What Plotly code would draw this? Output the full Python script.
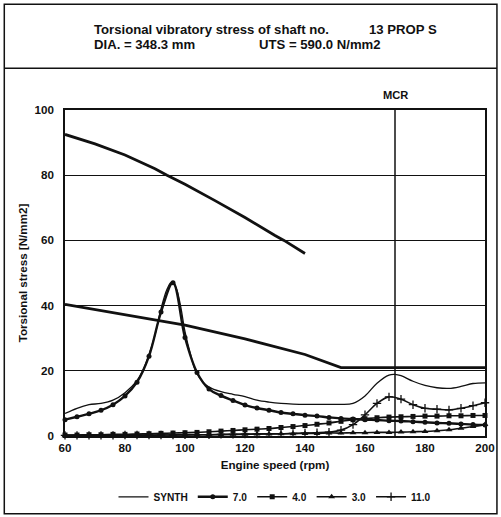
import plotly.graph_objects as go

# ---- data ----
rpm = [60, 64, 68, 72, 76, 80, 84, 88, 92, 96, 100, 104, 108, 112, 116, 120, 124, 128,
       132, 136, 140, 144, 148, 152, 156, 160, 164, 168, 172, 176, 180, 184, 188, 192, 196, 200]

synth_rpm = [60, 64, 68, 72, 76, 80, 84, 86, 88, 90, 92, 94, 95.5, 97, 98.5, 100, 102, 103.5,
             106, 108, 112, 116, 120, 124, 128, 132, 136, 140, 144, 148, 152, 156, 160, 164,
             168, 170, 172, 176, 180, 184, 188, 192, 196, 200]
synth = [6.9, 8.5, 9.6, 10.0, 11.0, 13.3, 17.0, 20.2, 25.0, 31.0, 39.0, 45.0, 47.2, 45.5, 40.0,
         32.0, 24.5, 20.0, 16.5, 15.0, 13.6, 12.8, 12.1, 11.0, 10.4, 10.0, 9.8, 9.7, 9.7, 9.7,
         9.7, 10.0, 12.3, 16.2, 18.7, 18.9, 18.5, 16.8, 15.5, 14.8, 14.6, 15.2, 16.1, 16.3]

order7 = [5.0, 5.9, 6.8, 7.9, 9.6, 12.3, 16.5, 24.5, 38.0, 47.0, 30.2, 19.5, 14.4, 12.4, 10.9,
          9.5, 8.6, 7.9, 7.2, 6.8, 6.4, 6.1, 5.7, 5.4, 5.2, 5.0, 4.9, 4.7, 4.6, 4.4, 4.2, 4.0,
          3.9, 3.7, 3.5, 3.4]
order4 = [0.3, 0.3, 0.4, 0.4, 0.5, 0.5, 0.6, 0.7, 0.8, 0.9, 1.0, 1.1, 1.3, 1.5, 1.7, 1.9, 2.1,
          2.3, 2.6, 2.9, 3.2, 3.6, 4.0, 4.5, 5.0, 5.3, 5.6, 5.8, 5.9, 6.0, 6.1, 6.1, 6.2, 6.2,
          6.3, 6.3]
order3 = [0.1, 0.1, 0.1, 0.1, 0.2, 0.2, 0.2, 0.2, 0.3, 0.3, 0.3, 0.4, 0.4, 0.4, 0.5, 0.5, 0.6,
          0.6, 0.7, 0.7, 0.8, 0.8, 0.9, 0.9, 1.0, 1.0, 1.1, 1.1, 1.2, 1.3, 1.4, 1.6, 1.9, 2.4,
          2.9, 3.5]
order11 = [0.2, 0.2, 0.2, 0.2, 0.2, 0.3, 0.3, 0.3, 0.3, 0.3, 0.4, 0.4, 0.4, 0.5, 0.5, 0.6, 0.6,
           0.7, 0.7, 0.8, 0.9, 1.0, 1.2, 1.8, 3.5, 6.5, 10.0, 12.0, 11.3, 9.6, 8.5, 8.2, 8.0,
           8.5, 9.3, 10.2]

upper_rpm = [60, 70, 80, 90, 94, 100, 110, 120, 130, 133, 140]
upper_limit = [92.5, 89.6, 86.2, 82.0, 80.0, 77.2, 72.2, 67.0, 61.5, 60.0, 56.0]
lower_rpm = [60, 80, 100, 120, 140, 152, 200]
lower_limit = [40.4, 37.3, 34.0, 29.8, 25.0, 21.0, 21.0]

mcr = 170
header_texts = [("Torsional vibratory stress of shaft no.", 92, 28),
                ("13 PROP S", 368, 28),
                ("DIA. = 348.3 mm", 92, 43),
                ("UTS = 590.0 N/mm2", 258, 43)]

FONT = "Liberation Sans, Arial, sans-serif"
BLACK = "#111111"
S = 1.012  # compensation for the capture scaling

# plot area in reference pixels
PL, PR, PT, PB = 64, 486, 109, 436
PW, PH = PR - PL, PB - PT


def px_x(px):
    return (px - PL) / PW


def px_y(py):
    return (PB - py) / PH


fig = go.Figure()
fig.add_trace(go.Scatter(x=upper_rpm, y=upper_limit, mode="lines", showlegend=False,
                         line=dict(color=BLACK, width=2.8), hoverinfo="skip"))
fig.add_trace(go.Scatter(x=lower_rpm, y=lower_limit, mode="lines", showlegend=False,
                         line=dict(color=BLACK, width=2.8), hoverinfo="skip"))
fig.add_trace(go.Scatter(x=synth_rpm, y=synth, mode="lines", name="SYNTH",
                         line=dict(color=BLACK, width=1.3, shape="spline")))
fig.add_trace(go.Scatter(x=rpm, y=order7, mode="lines+markers", name="7.0",
                         line=dict(color=BLACK, width=2.4, shape="spline"),
                         marker=dict(symbol="circle", size=5, color=BLACK), cliponaxis=False))
fig.add_trace(go.Scatter(x=rpm, y=order4, mode="lines+markers", name="4.0",
                         line=dict(color=BLACK, width=1.6, shape="spline"),
                         marker=dict(symbol="square", size=5, color=BLACK), cliponaxis=False))
fig.add_trace(go.Scatter(x=rpm, y=order3, mode="lines+markers", name="3.0",
                         line=dict(color=BLACK, width=1.6, shape="spline"),
                         marker=dict(symbol="triangle-up", size=6, color=BLACK), cliponaxis=False))
fig.add_trace(go.Scatter(x=rpm, y=order11, mode="lines+markers", name="11.0",
                         line=dict(color=BLACK, width=1.6, shape="spline"),
                         marker=dict(symbol="cross-thin", size=6, line=dict(width=1.3, color=BLACK)),
                         cliponaxis=False))

# borders
fig.add_shape(type="rect", xref="paper", yref="paper", x0=px_x(3), x1=px_x(498),
              y0=px_y(514), y1=px_y(3), line=dict(color=BLACK, width=1.5))
fig.add_shape(type="line", xref="paper", yref="paper", x0=px_x(3), x1=px_x(498),
              y0=px_y(67), y1=px_y(67), line=dict(color=BLACK, width=1.5))
fig.add_shape(type="line", xref="x", yref="paper", x0=mcr, x1=mcr, y0=0, y1=1,
              line=dict(color=BLACK, width=1.5))

for txt, px, py in header_texts:
    fig.add_annotation(xref="paper", yref="paper", x=px_x(px), y=px_y(py),
                       text=txt, showarrow=False, xanchor="left", yanchor="middle",
                       xshift=-1, font=dict(family=FONT, size=13 * S, color=BLACK, weight="bold"))
fig.add_annotation(xref="x", yref="paper", x=mcr, y=px_y(94), text="MCR",
                   showarrow=False, yanchor="middle",
                   font=dict(family=FONT, size=11 * S, color=BLACK, weight="bold"))

fig.update_layout(
    width=round(501 * S), height=round(517 * S),
    margin=dict(l=PL * S, r=(501 - PR) * S, t=PT * S, b=(517 - PB) * S),
    paper_bgcolor="white", plot_bgcolor="white",
    font=dict(family=FONT, color=BLACK),
    legend=dict(orientation="h", x=0.5, xanchor="center", y=px_y(497), yanchor="middle",
                font=dict(family=FONT, size=10 * S, color=BLACK, weight="bold"),
                itemwidth=30, tracegroupgap=0, bgcolor="rgba(0,0,0,0)"),
    xaxis=dict(range=[60, 200], dtick=20, tick0=60, showgrid=False, zeroline=False,
               showline=True, linecolor=BLACK, linewidth=1.5, mirror=True, ticks="",
               tickfont=dict(family=FONT, size=11.5 * S, color=BLACK, weight="bold"),
               title=dict(text="Engine speed (rpm)", standoff=8,
                          font=dict(family=FONT, size=11.5 * S, color=BLACK, weight="bold"))),
    yaxis=dict(range=[0, 100], dtick=20, showgrid=True, gridcolor=BLACK, gridwidth=1,
               zeroline=False, showline=True, linecolor=BLACK, linewidth=1.5, mirror=True,
               ticks="", ticklabelstandoff=7,
               tickfont=dict(family=FONT, size=11.5 * S, color=BLACK, weight="bold"),
               title=dict(text="Torsional stress [N/mm2]", standoff=4,
                          font=dict(family=FONT, size=11.5 * S, color=BLACK, weight="bold"))),
)

fig.write_html("out.html", config={"displayModeBar": False},
               post_script="document.documentElement.style.overflow='hidden';"
                           "document.body.style.overflow='hidden';"
                           "document.body.style.margin='0';")
